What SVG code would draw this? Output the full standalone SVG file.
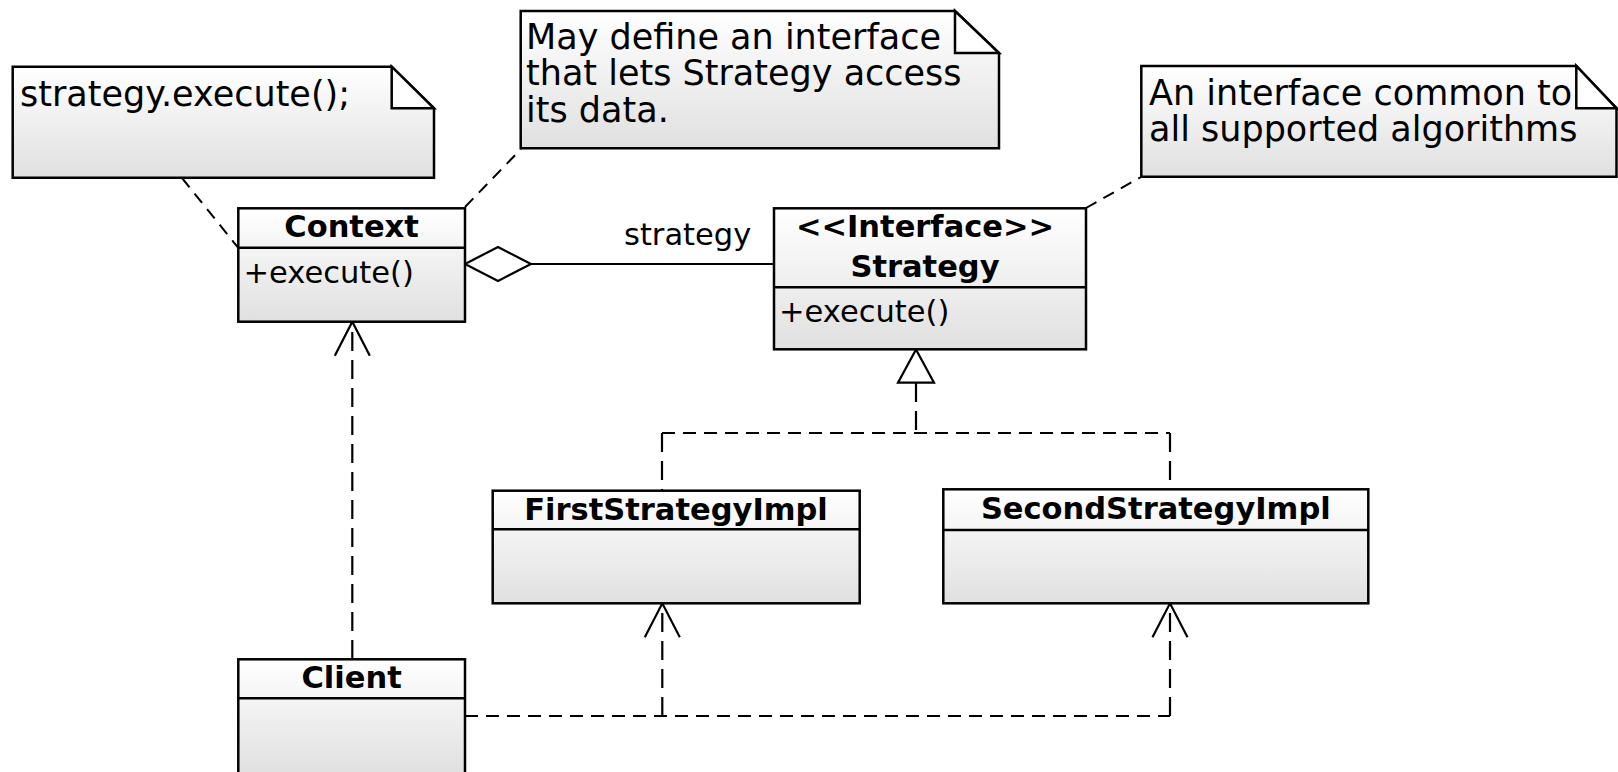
<svg xmlns="http://www.w3.org/2000/svg" width="1618" height="772" viewBox="0 0 1618 772">
<style>
  .box { fill: url(#grad); stroke: #000; stroke-width: 2.5; }
  .sep { stroke: #000; stroke-width: 2.5; }
  .fold { fill: #fff; stroke: #000; stroke-width: 2.5; stroke-linejoin: miter; }
  .title { font-family: "DejaVu Sans", "Liberation Sans", sans-serif; font-weight: bold; font-size: 30.5px; fill: #000; text-anchor: middle; }
  .member { font-family: "DejaVu Sans", "Liberation Sans", sans-serif; font-size: 30.5px; fill: #000; }
  .note { font-family: "DejaVu Sans", "Liberation Sans", sans-serif; font-size: 35px; fill: #000; }
  .solid { fill: none; stroke: #000; stroke-width: 2.2; }
  .dv { fill: none; stroke: #000; stroke-width: 2.2; stroke-dasharray: 19 9; }
  .dh { fill: none; stroke: #000; stroke-width: 2.2; stroke-dasharray: 13 8; }
  .dd { fill: none; stroke: #000; stroke-width: 2; stroke-dasharray: 12 8; }
  .open { fill: none; stroke: #000; stroke-width: 2.2; }
  .hollow { fill: #fff; stroke: #000; stroke-width: 2.2; }
</style>
<defs>
  <linearGradient id="grad" x1="0" y1="0" x2="0" y2="1">
    <stop offset="0" stop-color="#ffffff"/>
    <stop offset="1" stop-color="#e0e0e0"/>
  </linearGradient>
</defs>
<rect x="0" y="0" width="1618" height="772" fill="#fff"/>

<g id="connectors">
  <!-- note links -->
  <line class="dd" x1="182" y1="178" x2="240" y2="250"/>
  <line class="dd" x1="465" y1="207" x2="521" y2="149"/>
  <line class="dd" x1="1086" y1="208" x2="1141" y2="177"/>
  <!-- aggregation Context - Strategy -->
  <line class="solid" x1="531" y1="264" x2="774" y2="264"/>
  <polygon class="hollow" points="465,264 498,247 531,264 498,281"/>
  <text class="member" x="624" y="245">strategy</text>
  <!-- realization -->
  <line class="dv" x1="916" y1="383" x2="916" y2="433"/>
  <line class="dh" x1="662" y1="433" x2="1170" y2="433"/>
  <line class="dv" x1="662" y1="433" x2="662" y2="490"/>
  <line class="dv" x1="1170" y1="433" x2="1170" y2="489"/>
  <polygon class="hollow" points="916,349.5 898,382.7 934,382.7"/>
  <!-- dependency Client - Context -->
  <line class="dv" x1="352.3" y1="659" x2="352.3" y2="323"/>
  <polyline class="open" points="334.8,355.7 352.3,321.7 369.8,355.7"/>
  <!-- dependency Client - implementations -->
  <line class="dh" x1="465" y1="716" x2="1170" y2="716"/>
  <line class="dv" x1="662.3" y1="716" x2="662.3" y2="605"/>
  <line class="dv" x1="1170" y1="716" x2="1170" y2="605"/>
  <polyline class="open" points="644.8,637.3 662.3,603.3 679.8,637.3"/>
  <polyline class="open" points="1152.5,637.3 1170,603.3 1187.5,637.3"/>
</g>

<g id="note-execute">
  <path class="box" d="M12.7,66.7 H391.7 L434,108.3 V177.7 H12.7 Z"/>
  <path class="fold" d="M391.7,66.7 V108.3 H434 Z"/>
  <text class="note" x="20" y="106">strategy.execute();</text>
</g>

<g id="note-context">
  <path class="box" d="M520.7,11 H955 L999,53 V148.3 H520.7 Z"/>
  <path class="fold" d="M955,11 V53 H999 Z"/>
  <text class="note" x="526" y="48.5">May define an interface</text>
  <text class="note" x="526" y="85">that lets Strategy access</text>
  <text class="note" x="526" y="121.5">its data.</text>
</g>

<g id="note-strategy">
  <path class="box" d="M1141.3,66 H1576.3 L1616.5,108.3 V176.7 H1141.3 Z"/>
  <path class="fold" d="M1576.3,66 V108.3 H1616.5 Z"/>
  <text class="note" x="1149" y="105">An interface common to</text>
  <text class="note" x="1149" y="141">all supported algorithms</text>
</g>

<g id="context">
  <rect class="box" x="238.3" y="208.3" width="226.7" height="113.4"/>
  <line class="sep" x1="238.3" y1="247.7" x2="465" y2="247.7"/>
  <text class="title" x="351.6" y="236.7">Context</text>
  <text class="member" x="243.5" y="283.3">+execute()</text>
</g>

<g id="strategy">
  <rect class="box" x="774" y="208.3" width="312" height="141"/>
  <line class="sep" x1="774" y1="287.3" x2="1086" y2="287.3"/>
  <text class="title" x="925" y="237">&lt;&lt;Interface&gt;&gt;</text>
  <text class="title" x="925" y="276.5">Strategy</text>
  <text class="member" x="779" y="321.7">+execute()</text>
</g>

<g id="first-impl">
  <rect class="box" x="492.7" y="490.7" width="367" height="112.6"/>
  <line class="sep" x1="492.7" y1="529.3" x2="859.7" y2="529.3"/>
  <text class="title" x="676" y="519.7">FirstStrategyImpl</text>
</g>

<g id="second-impl">
  <rect class="box" x="943.3" y="489.3" width="425" height="114"/>
  <line class="sep" x1="943.3" y1="530" x2="1368.3" y2="530"/>
  <text class="title" x="1155.8" y="519.3">SecondStrategyImpl</text>
</g>

<g id="client">
  <rect class="box" x="238.3" y="659.3" width="226.7" height="114"/>
  <line class="sep" x1="238.3" y1="698.3" x2="465" y2="698.3"/>
  <text class="title" x="351.6" y="688.3">Client</text>
</g>
</svg>
